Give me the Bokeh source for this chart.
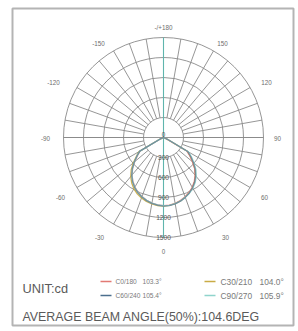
import math
from bokeh.plotting import figure
from bokeh.models import Range1d
from bokeh.core.properties import value
from bokeh.embed import file_html
from bokeh.resources import INLINE

# ---------------- data ----------------
angles = list(range(-90, 95, 5))  # gamma from nadir, left side negative
c0_180 = [0, 0, 0, 0, 6, 55, 405, 478, 565, 655, 735, 800, 858, 905, 942, 975, 1000, 1016,
          1022,
          1018, 1004, 978, 946, 908, 862, 805, 738, 660, 566, 482, 404, 52, 6, 0, 0, 0, 0]
c30_210 = [0, 0, 0, 0, 8, 64, 425, 498, 590, 685, 765, 832, 888, 932, 966, 992, 1012, 1024,
           1028,
           1022, 1008, 984, 952, 914, 868, 812, 744, 666, 574, 490, 412, 58, 8, 0, 0, 0, 0]
c60_240 = [0, 0, 0, 0, 8, 60, 410, 485, 572, 662, 742, 810, 866, 912, 950, 980, 1004, 1020,
           1030,
           1026, 1012, 988, 956, 918, 872, 816, 750, 674, 584, 500, 420, 64, 10, 0, 0, 0, 0]
c90_270 = [0, 0, 0, 0, 10, 66, 415, 488, 570, 658, 738, 806, 862, 908, 946, 976, 1000, 1015,
           1024,
           1021, 1008, 986, 956, 922, 880, 828, 764, 690, 600, 516, 434, 72, 12, 0, 0, 0, 0]

series_names = ["C0/180", "C30/210", "C60/240", "C90/270"]
beam_angles = ["103.3°", "104.0°", "105.4°", "105.9°"]
series_colors = ["#e27a74", "#c9ab45", "#4c6f8e", "#8fd4cc"]

ring_values = [300, 600, 900, 1200, 1500]
ring_labels = ["300", "600", "900", "1200", "1500"]
angle_ticks = [-150, -120, -90, -60, -30, 0, 30, 60, 90, 120, 150, 180]
angle_labels = ["-150", "-120", "-90", "-60", "-30", "0", "30", "60", "90", "120", "150", "-/+180"]
unit_label = "UNIT:cd"
average_label = "AVERAGE BEAM ANGLE(50%):104.6DEG"

# ---------------- layout ----------------
S = 15.0           # cd per screen pixel
CX, CY = 163, 137  # page position of pole
W, H = 297, 330

# screen positions (px) of the angle tick labels
label_pos = {-150: (98, 43), -120: (53, 82), -90: (45, 138), -60: (60, 197), -30: (99, 237),
             0: (163, 251), 30: (225, 237), 60: (264, 197), 90: (277, 138), 120: (266, 82),
             150: (222, 43), 180: (163, 27)}


def X(px):
    return (px - CX) * S


def Y(py):
    return (CY - py) * S


def polar(gamma, r):
    t = math.radians(gamma)
    return r * math.sin(t), -r * math.cos(t)


p = figure(width=W, height=H,
           x_range=Range1d(X(0), X(W)),
           y_range=Range1d(Y(H), Y(0)),
           output_backend="svg", toolbar_location=None, min_border=0)
p.axis.visible = False
p.grid.visible = False
p.outline_line_color = None
p.background_fill_color = "white"
p.border_fill_color = "white"

font = value("Liberation Sans")
grid_color = "#8a8a8a"

# frame border
p.quad(left=[X(12)], right=[X(293)], top=[Y(8)], bottom=[Y(325)],
       fill_color=None, line_color="#b4b4b4", line_width=2)

# rings
rmax = ring_values[-1]
p.circle(x=[0] * len(ring_values), y=[0] * len(ring_values), radius=ring_values,
         fill_color=None, line_color=grid_color, line_width=0.9)

# spokes every 10 deg from inner ring to outer ring
x0s, y0s, x1s, y1s = [], [], [], []
for g in range(-180, 180, 10):
    a0 = polar(g, ring_values[0])
    a1 = polar(g, rmax)
    x0s.append(a0[0]); y0s.append(a0[1]); x1s.append(a1[0]); y1s.append(a1[1])
p.segment(x0=x0s, y0=y0s, x1=x1s, y1=y1s, line_color=grid_color, line_width=0.9)
# horizontal diameter through the pole
p.segment(x0=[-rmax], y0=[0], x1=[rmax], y1=[0], line_color=grid_color, line_width=0.9)
# vertical 0-180 axis in teal
p.segment(x0=[0], y0=[-rmax], x1=[0], y1=[rmax], line_color="#5fb5ad", line_width=1.1)

# curves (drawing order chosen so the mix looks like the reference)
order = [1, 0, 3, 2]
alphas = {1: 0.9, 0: 0.8, 3: 0.85, 2: 0.6}
all_series = [c0_180, c30_210, c60_240, c90_270]
for k in order:
    vals, col = all_series[k], series_colors[k]
    xs, ys = [], []
    for g, v in zip(angles, vals):
        x, y = polar(g, v)
        xs.append(x); ys.append(y)
    p.line(xs, ys, line_color=col, line_width=1.3, line_alpha=alphas[k])

# angle labels
lx = [X(label_pos[g][0]) for g in angle_ticks]
ly = [Y(label_pos[g][1]) for g in angle_ticks]
p.text(x=lx, y=ly, text=angle_labels, text_font=font, text_font_size="6.3px",
       text_color="#6e6e6e", text_align="center", text_baseline="middle")

# ring labels
p.text(x=[0] * len(ring_values), y=[-v for v in ring_values], text=ring_labels,
       text_font=font, text_font_size="6.6px", text_color="#555555",
       text_align="center", text_baseline="middle")
p.text(x=[0], y=[Y(134)], text=["0"], text_font=font, text_font_size="6.3px",
       text_color="#555555", text_align="center", text_baseline="middle")

# legend block
p.text(x=[X(22)], y=[Y(288)], text=[unit_label], text_font=font, text_font_size="12.8px",
       text_color="#5a5a5a", text_align="left", text_baseline="middle")
line_x = [100, 204]
name_x = [115, 220]
beam_x = [142, 259]
legend_sizes = ["6.6px", "8.4px"]
row_y = [281, 295]
for i, (name, beam, col) in enumerate(zip(series_names, beam_angles, series_colors)):
    c = i % 2
    ry = row_y[i // 2]
    p.segment(x0=[X(line_x[c])], y0=[Y(ry)], x1=[X(line_x[c] + 11)], y1=[Y(ry)],
              line_color=col, line_width=1.3)
    p.text(x=[X(name_x[c]), X(beam_x[c])], y=[Y(ry), Y(ry)], text=[name, beam], text_font=font,
           text_font_size=legend_sizes[c], text_color="#7a7a7a",
           text_align="left", text_baseline="middle")

p.text(x=[X(22)], y=[Y(316)], text=[average_label], text_font=font, text_font_size="12.4px",
       text_color="#5a5a5a", text_align="left", text_baseline="middle")

open("out.html", "w").write(file_html(p, INLINE))
